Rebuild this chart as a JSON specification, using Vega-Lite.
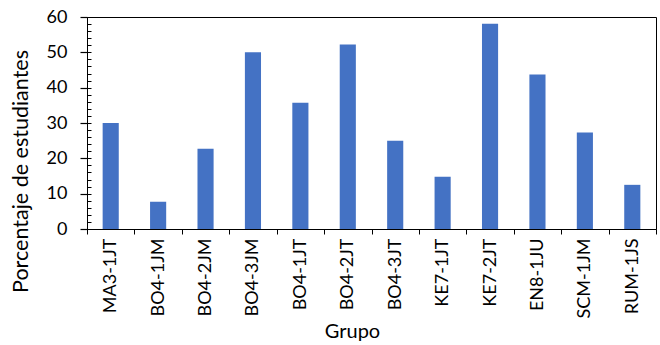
{
  "$schema": "https://vega.github.io/schema/vega-lite/v6.json",
  "autosize": "none",
  "width": 569,
  "height": 212,
  "padding": {"left": 87, "top": 17, "right": 4, "bottom": 116},
  "background": "white",
  "config": {
    "font": "Lato",
    "view": {"stroke": "black", "strokeWidth": 1},
    "axis": {
      "domainColor": "black",
      "tickColor": "black",
      "labelColor": "black",
      "titleColor": "black",
      "labelFont": "Lato",
      "titleFont": "Lato",
      "titleFontWeight": "normal",
      "grid": false
    }
  },
  "data": {
    "values": [
      {"grupo": "MA3-1JT", "porcentaje": 30},
      {"grupo": "BO4-1JM", "porcentaje": 7.7},
      {"grupo": "BO4-2JM", "porcentaje": 22.7},
      {"grupo": "BO4-3JM", "porcentaje": 50},
      {"grupo": "BO4-1JT", "porcentaje": 35.7},
      {"grupo": "BO4-2JT", "porcentaje": 52.2},
      {"grupo": "BO4-3JT", "porcentaje": 25},
      {"grupo": "KE7-1JT", "porcentaje": 14.8},
      {"grupo": "KE7-2JT", "porcentaje": 58.1},
      {"grupo": "EN8-1JU", "porcentaje": 43.7},
      {"grupo": "SCM-1JM", "porcentaje": 27.3},
      {"grupo": "RUM-1JS", "porcentaje": 12.5}
    ]
  },
  "layer": [
    {
      "mark": {"type": "bar", "color": "#4472C4", "width": {"band": 0.34}},
      "encoding": {
        "x": {
          "field": "grupo",
          "type": "nominal",
          "sort": null,
          "scale": {"paddingInner": 0, "paddingOuter": 0},
          "axis": {
            "title": "Grupo",
            "titleFontSize": 20,
            "titleX": 265,
            "titleY": 108,
            "titleBaseline": "alphabetic",
            "labelAngle": -90,
            "labelFontSize": 18,
            "labelPadding": 4,
            "tickBand": "extent",
            "tickSize": 5,
            "domainWidth": 1
          }
        },
        "y": {
          "field": "porcentaje",
          "type": "quantitative",
          "scale": {"domain": [0, 60], "nice": false},
          "axis": {
            "orient": "left",
            "title": "Porcentaje de estudiantes",
            "titleFontSize": 21.5,
            "titleX": -60,
            "titleY": 154,
            "titleAngle": -90,
            "titleAlign": "center",
            "titleBaseline": "alphabetic",
            "values": [0, 10, 20, 30, 40, 50, 60],
            "labelFontSize": 18,
            "labelPadding": 13,
            "tickSize": 7,
            "tickWidth": 1.2
          }
        }
      }
    },
    {
      "mark": {"type": "bar", "opacity": 0},
      "encoding": {
        "x": {"field": "grupo", "type": "nominal", "sort": null},
        "y": {
          "field": "porcentaje",
          "type": "quantitative",
          "axis": {
            "orient": "left",
            "title": null,
            "labels": false,
            "domain": false,
            "tickSize": -4,
            "values": [0, 2, 4, 6, 8, 10, 12, 14, 16, 18, 20, 22, 24, 26, 28, 30, 32, 34, 36, 38, 40, 42, 44, 46, 48, 50, 52, 54, 56, 58, 60]
          }
        }
      }
    }
  ],
  "resolve": {"axis": {"y": "independent"}}
}
